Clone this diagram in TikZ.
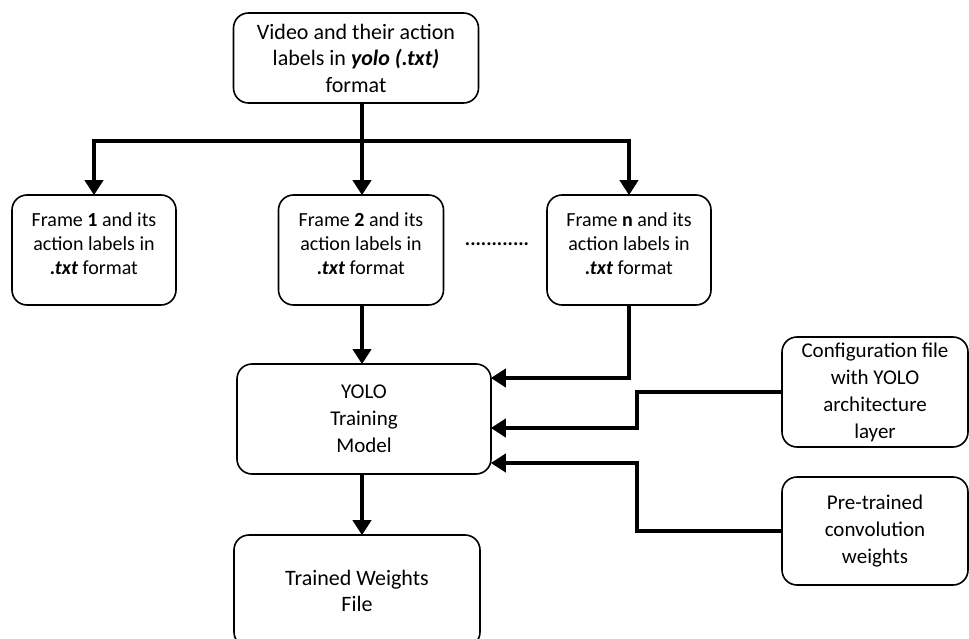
\documentclass[tikz,border=0pt]{standalone}
\usepackage{fontspec}
\setmainfont{Carlito}
\usetikzlibrary{arrows.meta}
\tikzset{
  box/.style={draw=black, line width=1.6pt, rounded corners=15pt, align=center,
    inner sep=2pt, font=\fontsize{22}{26.5}\selectfont},
  framebox/.style={box, minimum width=164pt, minimum height=110pt, text depth=12pt,
    font=\fontsize{20}{24}\selectfont},
  sidebox/.style={box, minimum width=186pt, font=\fontsize{21}{27}\selectfont},
  conn/.style={line width=4.8pt, line join=miter},
  arr/.style={conn, -{Triangle[width=18pt,length=15pt]}, shorten >=-1pt},
}
\begin{document}
\begin{tikzpicture}[x=1pt, y=-1pt]
\useasboundingbox (0,0) rectangle (969,639);

% input video with labels
\node[box, minimum width=245pt, minimum height=90pt] (top) at (356,58)
  {Video and their action\\labels in \textbf{\textit{yolo (.txt)}}\\format};

% per-frame label files
\node[framebox] (f1) at (94,250)
  {Frame \textbf{1} and its\\action labels in\\\textbf{\textit{.txt}} format};
\node[framebox, minimum width=165pt] (f2) at (361,250)
  {Frame \textbf{2} and its\\action labels in\\\textbf{\textit{.txt}} format};
\node[framebox] (fn) at (629,250)
  {Frame \textbf{n} and its\\action labels in\\\textbf{\textit{.txt}} format};
\node[font=\fontsize{20}{24}\selectfont\bfseries, inner sep=0pt] (dots) at (497,244) {............};

% training
\node[box, minimum width=254pt, minimum height=110pt, font=\fontsize{21}{27}\selectfont] (yolo) at (364,419)
  {YOLO\\Training\\Model};
\node[sidebox, minimum height=110pt] (cfg) at (875,392)
  {Configuration file\\with YOLO\\architecture\\layer};
\node[sidebox, minimum height=108pt] (pre) at (875,531)
  {Pre-trained\\convolution\\weights};
\node[box, minimum width=246pt, minimum height=112pt] (out) at (357,591)
  {Trained Weights\\File};

% fan-out from the video to the frames
\coordinate (split) at (362,141);
\draw[conn] (top.south -| split) -- (split);
\draw[conn, line cap=rect] (f1.north |- split) -- (fn.north |- split);
\draw[arr] (f1.north |- split) -- (f1.north);
\draw[arr] (split) -- (split |- f2.north);
\draw[arr] (fn.north |- split) -- (fn.north);

% inputs to the training model
\draw[arr] (split |- f2.south) -- (split |- yolo.north);
\draw[arr] (fn.south) |- ([yshift=41pt]yolo.east);
\coordinate (bendc) at (637,392);
\draw[arr] (cfg.west) -- (bendc) |- ([yshift=-9pt]yolo.east);
\coordinate (bendp) at (637,531);
\draw[arr] (pre.west) -- (bendp) |- ([yshift=-44pt]yolo.east);

% output weights
\draw[arr] (split |- yolo.south) -- (split |- out.north);
\end{tikzpicture}
\end{document}
